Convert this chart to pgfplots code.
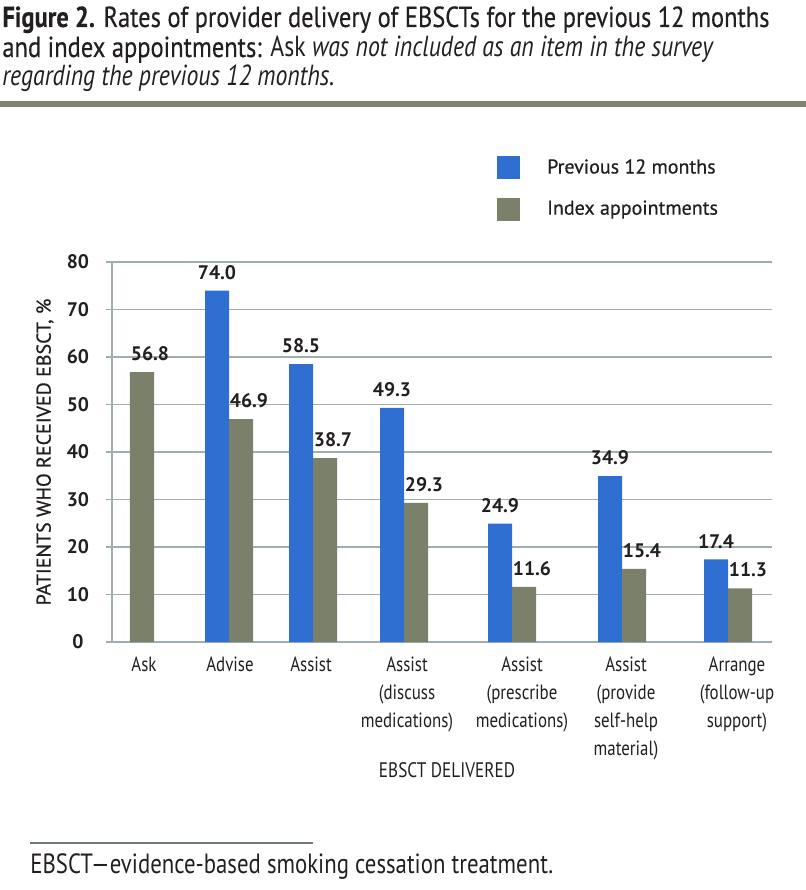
\documentclass[border=0pt]{standalone}
\usepackage{fontspec}
\usepackage{pgfplots}
\pgfplotsset{compat=1.18}
\setmainfont{PT Sans}
\newfontfamily\cond{PT Sans}[FakeStretch=0.82]
\newfontfamily\capt{PT Sans}[FakeStretch=0.845, FakeBold=0.3]
\newfontfamily\med{PT Sans}[FakeBold=0.6]
\definecolor{barblue}{RGB}{47,111,210}
\definecolor{bargray}{RGB}{123,128,106}
\definecolor{gridc}{RGB}{160,174,178}
\definecolor{rulec}{RGB}{128,131,112}
\definecolor{txt}{RGB}{35,31,32}

\begin{document}
\begin{tikzpicture}[text=txt]
\path[use as bounding box] (-56pt,-124pt) rectangle (347pt,321pt);
\begin{axis}[
    at={(0,0)}, anchor=south west,
    scale only axis, width=330pt, height=190pt,
    ybar, bar width=24,
    xmin=112, xmax=772, ymin=0, ymax=80,
    ytick={0,10,...,80},
    xtick={144,230,311,407,522,626,737},
    xticklabels={Ask, Advise, Assist,
        Assist\\(discuss\\medications),
        Assist\\(prescribe\\medications),
        Assist\\(provide\\self-help\\material),
        Arrange\\(follow-up\\support)},
    xticklabel style={font=\cond\fontsize{10.3}{14}\selectfont, align=center, anchor=north, yshift=-1pt},
    yticklabel style={font=\bfseries\fontsize{9.8}{11}\selectfont, anchor=center, xshift=-14pt},
    /pgf/number format/assume math mode=true,
    axis x line*=bottom, axis y line*=left,
    axis line style={gridc, line width=1pt},
    ymajorgrids, grid style={gridc, line width=0.9pt},
    x tick style={draw=none},
    y tick style={gridc, line width=0.9pt},
    tick align=outside, major tick length=3pt,
    xlabel={EBSCT DELIVERED},
    xlabel style={font=\cond\fontsize{10.5}{12}\selectfont, at={(axis description cs:0.5076,-0.337)}, anchor=center},
    ylabel={PATIENTS WHO RECEIVED EBSCT, \%},
    ylabel style={font=\med\fontsize{10}{12}\selectfont, at={(axis description cs:-0.1015,0.5)}, anchor=center},
    nodes near coords={\pgfmathprintnumber[fixed,fixed zerofill,precision=1]{\pgfplotspointmeta}},
    every node near coord/.append style={font=\bfseries\fontsize{9.8}{11}\selectfont, text=txt, yshift=2pt},
    legend style={at={(0.583,1.282)}, anchor=north west, draw=none, fill=none,
        inner sep=0pt, row sep=8pt, column sep=11.5pt,
        font=\med\fontsize{10}{12}\selectfont, cells={anchor=west}},
]
\addplot[fill=barblue, draw=none, bar shift=-12,
    legend image code/.code={\fill[barblue] (0pt,-5.75pt) rectangle (11.5pt,5.75pt);}]
    coordinates {(229,74.0) (313,58.5) (404,49.3) (512,24.9) (622,34.9) (728,17.4)};
\addlegendentry{Previous 12 months}
\addplot[fill=bargray, draw=none, bar shift=12,
    every node near coord/.append style={xshift=4pt},
    legend image code/.code={\fill[bargray] (0pt,-5.75pt) rectangle (11.5pt,5.75pt);}]
    coordinates {(130,56.8) (229,46.9) (313,38.7) (404,29.3) (512,11.6) (622,15.4) (728,11.3)};
\addlegendentry{Index appointments}
\end{axis}
% caption
\node[anchor=base west, inner sep=0, font=\capt\fontsize{14.5}{15}\selectfont] at (-55pt,307.5pt)
    {\textbf{Figure 2.} Rates of provider delivery of EBSCTs for the previous 12 months};
\node[anchor=base west, inner sep=0, font=\capt\fontsize{14.5}{15}\selectfont] at (-55pt,292.5pt)
    {and index appointments: {\cond Ask \itshape was not included as an item in the survey}};
\node[anchor=base west, inner sep=0, font=\cond\fontsize{14.5}{15}\selectfont] at (-55pt,278pt)
    {\textit{regarding the previous 12 months.}};
\fill[rulec] (-56pt,267.5pt) rectangle (347pt,270.5pt);
% footnote
\draw[gridc!70!black, line width=1pt] (-41pt,-100.5pt) -- (100.5pt,-100.5pt);
\node[anchor=base west, inner sep=0, font=\cond\fontsize{13.9}{15}\selectfont] at (-41pt,-115.5pt)
    {EBSCT—evidence-based smoking cessation treatment.};
\end{tikzpicture}
\end{document}
